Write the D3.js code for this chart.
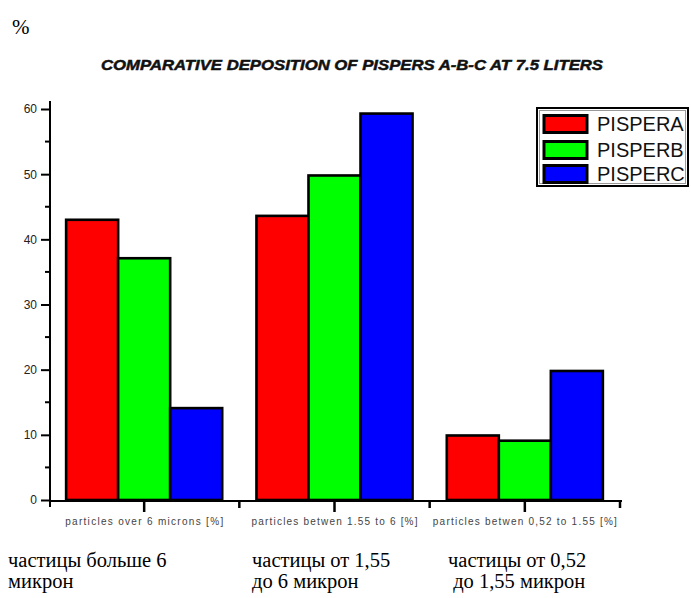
<!DOCTYPE html>
<html>
<head>
<meta charset="utf-8">
<script src="https://cdn.jsdelivr.net/npm/d3@7"></script>
<style>
  body { margin: 0; background: #fff; }
  svg { display: block; }
</style>
</head>
<body>
<svg id="chart" width="691" height="598"></svg>
<script>
// ---- data ----
const categories = [
  "particles over 6 microns  [%]",
  "particles betwen 1.55 to 6 [%]",
  "particles betwen 0,52 to 1.55 [%]"
];
const seriesNames = ["PISPERA", "PISPERB", "PISPERC"];
const seriesColors = ["#ff0000", "#00ff00", "#0000ff"];
const pisperA = [43.0, 43.6, 9.9];
const pisperB = [37.1, 49.8, 9.1];
const pisperC = [14.1, 59.3, 19.8];
const yTicks = [0, 10, 20, 30, 40, 50, 60];
const yMinorTicks = [5, 15, 25, 35, 45, 55];
const titleText = "COMPARATIVE DEPOSITION OF PISPERS A-B-C AT 7.5 LITERS";
const unitText = "%";
const ruLabels = [
  ["частицы больше 6", "микрон"],
  ["частицы от 1,55", "до 6 микрон"],
  ["частицы от 0,52", " до 1,55 микрон"]
];

const seriesValues = [pisperA, pisperB, pisperC];

// ---- layout ----
const svg = d3.select("#chart");
const x0 = d3.scaleBand().domain(categories).range([49, 620]).padding(0);
const bw = x0.bandwidth();
const pad = bw * 0.09;
const x1 = d3.scaleBand().domain(seriesNames).range([pad, bw - pad]).padding(0);
const y = d3.scaleLinear().domain([0, 60]).range([500, 109]);
const labelWidths = [158, 166, 184];

// unit label
svg.append("text").attr("x", 12).attr("y", 34)
  .attr("font-family", "'Liberation Serif', 'Times New Roman', serif")
  .attr("font-size", 21).attr("fill", "#000").text(unitText);

// title
svg.append("text").attr("x", 352).attr("y", 70)
  .attr("text-anchor", "middle")
  .attr("font-family", "'Liberation Sans', Arial, sans-serif")
  .attr("font-weight", "bold").attr("font-style", "italic")
  .attr("font-size", 15)
  .attr("textLength", 502).attr("lengthAdjust", "spacingAndGlyphs")
  .attr("fill", "#111").attr("stroke", "#111").attr("stroke-width", 0.5)
  .text(titleText);

// bars
const groups = svg.append("g").selectAll("g")
  .data(categories).join("g")
  .attr("transform", d => `translate(${x0(d)},0)`);

groups.selectAll("rect")
  .data((c, ci) => seriesNames.map((s, si) => ({ s, si, v: seriesValues[si][ci] })))
  .join("rect")
  .attr("x", d => x1(d.s))
  .attr("width", x1.bandwidth())
  .attr("y", d => y(d.v))
  .attr("height", d => y(0) - y(d.v))
  .attr("fill", d => seriesColors[d.si])
  .attr("stroke", "#000")
  .attr("stroke-width", 2.6);

// y axis
const yAxisG = svg.append("g").attr("transform", "translate(50,0)");
yAxisG.append("line").attr("x1", 0).attr("x2", 0).attr("y1", 101).attr("y2", 507)
  .attr("stroke", "#000").attr("stroke-width", 2);
yAxisG.call(d3.axisLeft(y).tickValues(yTicks).tickSize(9).tickPadding(4).tickFormat(d3.format("d")))
  .call(g => g.select(".domain").remove())
  .call(g => g.selectAll(".tick line").attr("stroke", "#000").attr("stroke-width", 2))
  .call(g => g.selectAll(".tick text")
    .attr("font-family", "'Liberation Sans', Arial, sans-serif")
    .attr("font-size", 12).attr("fill", "#222"));
yAxisG.append("g").selectAll("line").data(yMinorTicks).join("line")
  .attr("x1", -5).attr("x2", 0)
  .attr("y1", d => y(d)).attr("y2", d => y(d))
  .attr("stroke", "#000").attr("stroke-width", 2);

// x axis
const xAxisG = svg.append("g").attr("transform", "translate(0,501)");
xAxisG.append("line").attr("x1", 49).attr("x2", 622).attr("y1", 0).attr("y2", 0)
  .attr("stroke", "#000").attr("stroke-width", 2);
xAxisG.call(d3.axisBottom(x0).tickSize(11).tickPadding(6))
  .call(g => g.select(".domain").remove())
  .call(g => g.selectAll(".tick line").attr("stroke", "#000").attr("stroke-width", 2.5))
  .call(g => g.selectAll(".tick text")
    .attr("font-family", "'Liberation Sans', Arial, sans-serif")
    .attr("font-size", 10).attr("fill", "#444")
    .attr("textLength", (d, i) => labelWidths[i])
    .attr("lengthAdjust", "spacing"));
const boundaries = categories.map(c => x0(c) + bw);
xAxisG.append("g").selectAll("line").data(boundaries).join("line")
  .attr("x1", d => d).attr("x2", d => d).attr("y1", 0).attr("y2", 7)
  .attr("stroke", "#000").attr("stroke-width", 2.5);

// legend
const lg = svg.append("g");
lg.append("rect").attr("x", 537).attr("y", 108).attr("width", 151).attr("height", 78)
  .attr("fill", "#fff").attr("stroke", "#000").attr("stroke-width", 2);
lg.append("rect").attr("x", 539.5).attr("y", 110.5).attr("width", 146).attr("height", 73)
  .attr("fill", "none").attr("stroke", "#999").attr("stroke-width", 1);
const rowY = [124, 150, 174];
seriesNames.forEach((s, i) => {
  lg.append("rect").attr("x", 544).attr("y", rowY[i] - 8.5).attr("width", 43).attr("height", 17)
    .attr("fill", seriesColors[i]).attr("stroke", "#000").attr("stroke-width", 3);
  lg.append("text").attr("x", 597).attr("y", rowY[i]).attr("dy", "0.36em")
    .attr("font-family", "'Liberation Sans', Arial, sans-serif")
    .attr("font-size", 20).attr("fill", "#111").text(s);
});

// russian labels below
const ruX = [[8, 8], [252, 252], [448, 448]];
ruLabels.forEach((lines, i) => {
  lines.forEach((t, j) => {
    svg.append("text").attr("x", ruX[i][j]).attr("y", 567 + j * 21)
      .attr("font-family", "'Liberation Serif', 'Times New Roman', serif")
      .attr("font-size", 20.5).attr("fill", "#000")
      .attr("xml:space", "preserve")
      .style("white-space", "pre")
      .text(t);
  });
});
</script>
</body>
</html>
